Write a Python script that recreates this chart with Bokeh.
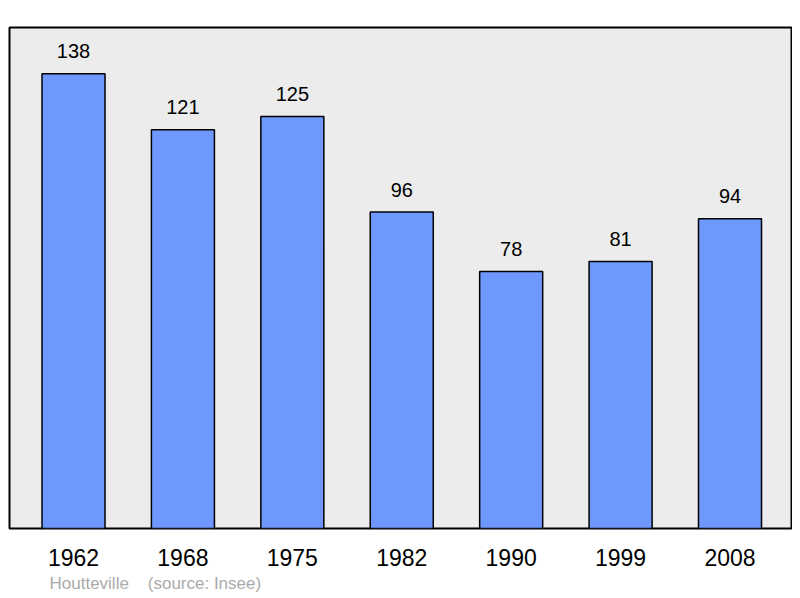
from bokeh.plotting import figure
from bokeh.models import Range1d, FixedTicker, Title, ColumnDataSource
from bokeh.core.properties import value
from bokeh.embed import file_html
from bokeh.resources import INLINE

years = ["1962", "1968", "1975", "1982", "1990", "1999", "2008"]
population = [138, 121, 125, 96, 78, 81, 94]
commune = "Houtteville"
source_note = "(source: Insee)"

FONT = "Liberation Sans"
idx = list(range(len(years)))
src = ColumnDataSource(dict(x=idx, y=population, label=[str(v) for v in population]))

p = figure(width=792, height=598, output_backend="svg", toolbar_location=None,
           x_range=Range1d(-0.585, 6.562), y_range=Range1d(0, 152),
           min_border_left=9, min_border_right=1, min_border_top=27, min_border_bottom=70,
           y_axis_location=None)

p.background_fill_color = "#ececec"
p.border_fill_color = "white"
p.outline_line_color = "black"
p.outline_line_width = 2
p.xgrid.visible = False
p.ygrid.visible = False

p.vbar(x="x", top="y", bottom=0, width=0.576, source=src,
       fill_color="#6f98ff", line_color="black", line_width=1.5)

p.text(x="x", y="y", text="label", source=src, text_align="center",
       text_baseline="middle", y_offset=-22.5, text_font_size="20px",
       text_font=value(FONT), text_color="black")

ax = p.xaxis[0]
ax.ticker = FixedTicker(ticks=idx)
ax.major_label_overrides = {i: y for i, y in zip(idx, years)}
ax.axis_line_color = None
ax.major_tick_line_color = None
ax.minor_tick_line_color = None
ax.major_label_text_font = FONT
ax.major_label_text_font_size = "23px"
ax.major_label_text_color = "black"
ax.major_label_standoff = 14

p.add_layout(Title(text=commune + "\u00a0" * 4 + source_note, align="left", offset=40,
                   text_font=FONT, text_font_size="17px", text_font_style="normal",
                   text_color="#aaaaaa", standoff=7), "below")

open("out.html", "w").write(file_html(p, INLINE))
